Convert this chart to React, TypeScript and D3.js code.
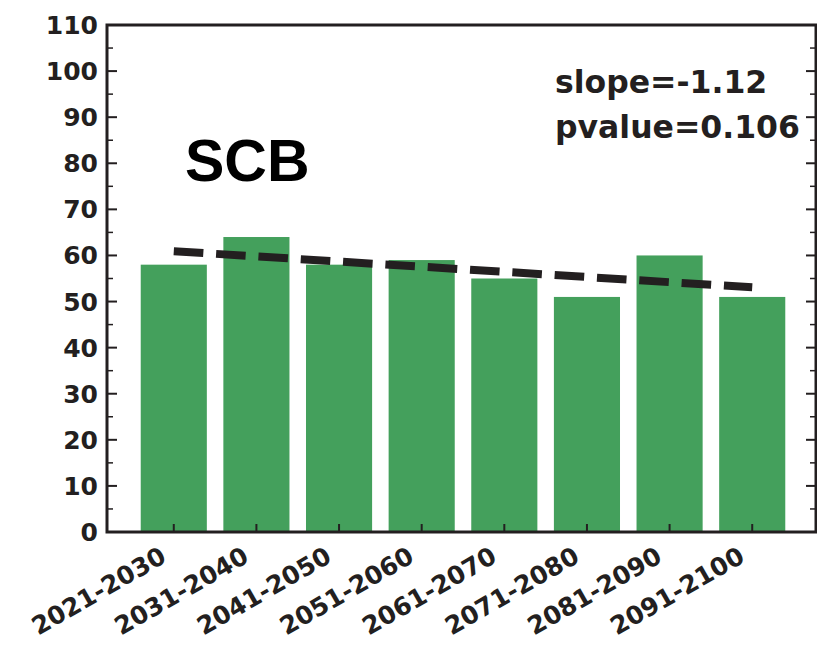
import React from "react";
import { scaleBand, scaleLinear, range, mean } from "d3";

const periods = [
  "2021-2030",
  "2031-2040",
  "2041-2050",
  "2051-2060",
  "2061-2070",
  "2071-2080",
  "2081-2090",
  "2091-2100",
];
const counts = [58, 64, 58, 59, 55, 51, 60, 51];
const yTicks = [0, 10, 20, 30, 40, 50, 60, 70, 80, 90, 100, 110];
const yMinorTicks = [5, 15, 25, 35, 45, 55, 65, 75, 85, 95, 105];
const regionLabel = "SCB";
const statLines = ["slope=-1.12", "pvalue=0.106"];

const W = 817;
const H = 649;
const margin = { top: 25, right: 1, bottom: 117, left: 107 };
const ink = "#231f20";
const barColor = "#44a05c";
const tickFont = "'DejaVu Sans', sans-serif";

export default function App() {
  const x = scaleBand<string>()
    .domain(periods)
    .range([margin.left + 1.5, W - margin.right + 1.5])
    .paddingInner(0.2)
    .paddingOuter(0.39);

  const y = scaleLinear()
    .domain([0, 110])
    .range([H - margin.bottom, margin.top]);

  // least squares fit over the decade index, as in the original trend line
  const idx = range(periods.length);
  const mx = mean(idx) ?? 0;
  const my = mean(counts) ?? 0;
  const sxy = idx.reduce((s, i) => s + (i - mx) * (counts[i] - my), 0);
  const sxx = idx.reduce((s, i) => s + (i - mx) * (i - mx), 0);
  const slope = sxy / sxx;
  const icept = my - slope * mx;
  const cx = (p: string) => x(p)! + x.bandwidth() / 2;
  const first = periods[0];
  const last = periods[periods.length - 1];

  const x0 = margin.left;
  const x1 = W - margin.right;
  const yb = H - margin.bottom;
  const yt = margin.top;

  return (
    <>
      <style>{`body{margin:0}`}</style>
      <svg width={W} height={H} style={{ display: "block", background: "#fff" }}>
        {/* bars */}
        {periods.map((p, i) => (
          <rect
            key={p}
            x={x(p)}
            y={y(counts[i])}
            width={x.bandwidth()}
            height={yb - y(counts[i])}
            fill={barColor}
          />
        ))}

        {/* trend line */}
        <line
          x1={cx(first)}
          y1={y(icept)}
          x2={cx(last)}
          y2={y(icept + slope * (periods.length - 1))}
          stroke={ink}
          strokeWidth={8}
          strokeDasharray="29.6,12.8"
        />

        {/* y ticks, inward on both sides */}
        {yTicks.map((t) => (
          <g key={t}>
            <line x1={x0} x2={x0 + 10} y1={y(t)} y2={y(t)} stroke={ink} strokeWidth={2} />
            <line x1={x1} x2={x1 - 10} y1={y(t)} y2={y(t)} stroke={ink} strokeWidth={2} />
            <text
              x={x0 - 9}
              y={y(t)}
              dy="0.36em"
              textAnchor="end"
              fontFamily={tickFont}
              fontWeight="bold"
              fontSize={25}
              fill={ink}
            >
              {t}
            </text>
          </g>
        ))}
        {yMinorTicks.map((t) => (
          <g key={t}>
            <line x1={x0} x2={x0 + 6} y1={y(t)} y2={y(t)} stroke={ink} strokeWidth={1.5} />
            <line x1={x1} x2={x1 - 6} y1={y(t)} y2={y(t)} stroke={ink} strokeWidth={1.5} />
          </g>
        ))}

        {/* x ticks and rotated labels */}
        {periods.map((p) => (
          <g key={p}>
            <line x1={cx(p)} x2={cx(p)} y1={yb} y2={yb - 8} stroke={ink} strokeWidth={2} />
            <text
              transform={`translate(${cx(p) - 6},${yb + 29}) rotate(-30)`}
              textAnchor="end"
              fontFamily={tickFont}
              fontWeight="bold"
              fontSize={25}
              fill={ink}
            >
              {p}
            </text>
          </g>
        ))}

        {/* frame */}
        <rect
          x={x0}
          y={yt}
          width={x1 - x0}
          height={yb - yt}
          fill="none"
          stroke={ink}
          strokeWidth={3}
        />

        {/* annotations */}
        <text
          x={185}
          y={181}
          fontFamily="'Liberation Sans', Arial, sans-serif"
          fontWeight="bold"
          fontSize={59}
          fill="#000"
        >
          {regionLabel}
        </text>
        {statLines.map((s, i) => (
          <text
            key={s}
            x={555}
            y={93 + i * 45}
            fontFamily={tickFont}
            fontWeight="bold"
            fontSize={31.5}
            fill={ink}
          >
            {s}
          </text>
        ))}
      </svg>
    </>
  );
}
